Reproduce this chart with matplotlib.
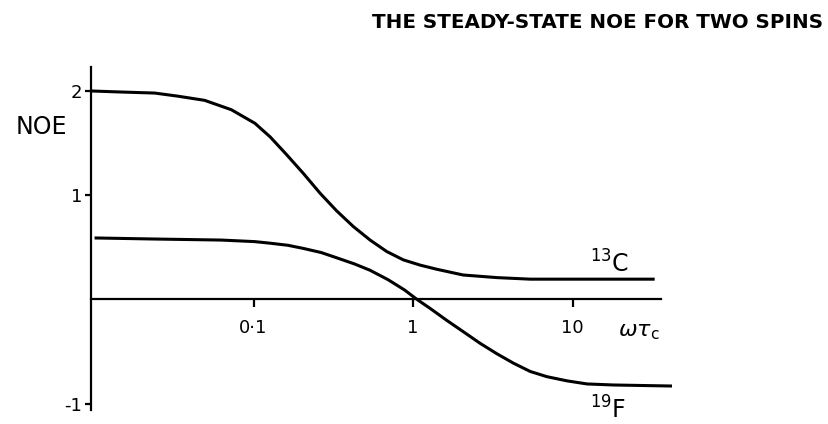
import matplotlib
matplotlib.use("Agg")
import matplotlib.pyplot as plt
from matplotlib.ticker import FixedLocator, NullLocator

plt.rcParams['font.family'] = ['DejaVu Sans']
plt.rcParams['mathtext.fontset'] = 'dejavusans'

# values (omega*tau_c on a log axis)
omega_tau_c13 = [0.0096, 0.0148, 0.024, 0.0336, 0.0494, 0.0726, 0.102, 0.127, 0.161,
                 0.205, 0.261, 0.332, 0.422, 0.538, 0.684, 0.869, 1.106, 1.408,
                 2.06, 3.35, 5.42, 32.0]
noe_c13 = [2.0, 1.99, 1.98, 1.95, 1.91, 1.82, 1.69, 1.56, 1.39,
           1.21, 1.02, 0.85, 0.70, 0.57, 0.46, 0.38, 0.33, 0.29,
           0.235, 0.21, 0.195, 0.195]

omega_tau_f19 = [0.0103, 0.024, 0.0629, 0.102, 0.127, 0.164, 0.205, 0.266, 0.332,
                 0.431, 0.538, 0.697, 0.887, 1.049, 1.278, 1.626, 2.07, 2.63,
                 3.35, 4.25, 5.42, 6.89, 9.2, 12.3, 18.0, 41.9]
noe_f19 = [0.59, 0.58, 0.57, 0.555, 0.54, 0.52, 0.49, 0.45, 0.40,
           0.34, 0.28, 0.19, 0.09, 0.005, -0.085, -0.20, -0.31, -0.42,
           -0.52, -0.61, -0.69, -0.74, -0.78, -0.81, -0.82, -0.83]

x_ticks = [0.1, 1, 10]
x_tick_labels = ['0·1', '1', '10']
y_ticks = [-1, 1, 2]
y_tick_labels = ['-1', '1', '2']

fig = plt.figure(figsize=(8.29, 4.24), dpi=100)
ax = fig.add_axes([0.1094, 0.033, 0.7012, 0.809])

ax.plot(omega_tau_c13, noe_c13, color='black', lw=2.2, solid_joinstyle='round')
ax.plot(omega_tau_f19, noe_f19, color='black', lw=2.2, solid_joinstyle='round')

ax.set_xscale('log')
ax.set_xlim(0.00953, 42)
ax.set_ylim(-1.06, 2.23)

for s in ['top', 'right']:
    ax.spines[s].set_visible(False)
ax.spines['left'].set_linewidth(1.6)
ax.spines['bottom'].set_linewidth(1.6)
ax.spines['bottom'].set_position(('data', 0))
ax.spines['bottom'].set_bounds(0.00953, 36)

ax.xaxis.set_major_locator(FixedLocator(x_ticks))
ax.xaxis.set_minor_locator(NullLocator())
ax.set_xticklabels(x_tick_labels)
ax.set_yticks(y_ticks)
ax.set_yticklabels(y_tick_labels)
ax.tick_params(axis='x', direction='out', length=6, width=1.6, pad=8, labelsize=13)
ax.tick_params(axis='y', direction='out', length=4, width=1.6, pad=2, labelsize=13)

ax.text(-0.129, 0.825, 'NOE', transform=ax.transAxes, fontsize=17, ha='left', va='center')
ax.text(0.907, 0.227, r'$\omega\tau_{\mathrm{c}}$', transform=ax.transAxes,
        fontsize=16, ha='left', va='center')
ax.text(12.9, 0.26, r'$^{13}\mathrm{C}$', fontsize=17, ha='left', va='baseline')
ax.text(12.9, -1.14, r'$^{19}\mathrm{F}$', fontsize=17, ha='left', va='baseline')

fig.text(0.449, 0.948, 'THE STEADY-STATE NOE FOR TWO SPINS', fontsize=14.3,
         fontweight='bold', ha='left', va='center')

fig.savefig('out.png', dpi=100)
